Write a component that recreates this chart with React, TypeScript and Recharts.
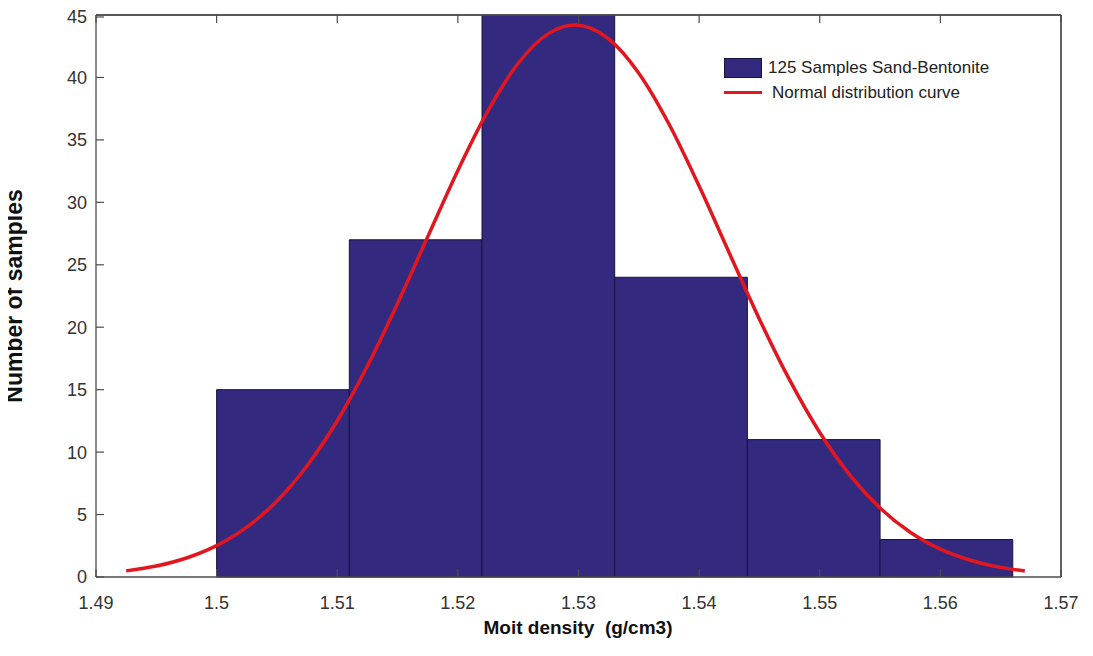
import React from "react";
import {
  ComposedChart,
  Line,
  XAxis,
  YAxis,
  ReferenceArea,
  ReferenceLine,
} from "recharts";

// histogram bins (g/cm3) and sample counts
const binStarts = [1.5, 1.511, 1.522, 1.533, 1.544, 1.555];
const binEnds = [1.511, 1.522, 1.533, 1.544, 1.555, 1.566];
const binCounts = [15, 27, 45, 24, 11, 3];

// fitted normal curve, scaled to counts
const curveX = [
  1.4925, 1.495, 1.4975, 1.5, 1.5025, 1.505, 1.5075, 1.51, 1.5125, 1.515,
  1.5175, 1.52, 1.5225, 1.525, 1.5275, 1.5297, 1.5325, 1.535, 1.5375, 1.54,
  1.5425, 1.545, 1.5475, 1.55, 1.5525, 1.555, 1.5575, 1.56, 1.5625, 1.565,
  1.567,
];
const curveY = [
  0.49, 0.88, 1.52, 2.51, 3.99, 6.08, 8.91, 12.51, 16.89, 21.9, 27.24, 32.55,
  37.34, 41.14, 43.51, 44.2, 43.09, 40.34, 36.27, 31.3, 25.94, 20.64, 15.78,
  11.57, 8.16, 5.52, 3.58, 2.23, 1.34, 0.77, 0.48,
];

const xTicks = [1.49, 1.5, 1.51, 1.52, 1.53, 1.54, 1.55, 1.56, 1.57];
const yTicks = [0, 5, 10, 15, 20, 25, 30, 35, 40, 45];

const barName = "125 Samples Sand-Bentonite";
const curveName = "Normal distribution curve";

const curveData = curveX.map((x, i) => ({ x, y: curveY[i] }));

const BAR_FILL = "#332A80";
const BAR_EDGE = "#16133a";
const CURVE = "#E2161E";
const AXIS = "#4d4d4d";
const FONT = "Arial, 'Liberation Sans', sans-serif";
const TICK_LEN = 8;
const X_GAP = 19;
const Y_GAP = 9;

// ticks point into the plot box, labels stay outside
const BottomTick = (props: any) => {
  const { x, y, payload } = props;
  const axisY = y - X_GAP;
  return (
    <g>
      <line x1={x} y1={axisY} x2={x} y2={axisY - TICK_LEN} stroke={AXIS} strokeWidth={1.2} />
      <text x={x} y={y} dy="0.71em" textAnchor="middle" fill="#333" fontSize={18} fontFamily={FONT}>
        {String(payload.value)}
      </text>
    </g>
  );
};

const LeftTick = (props: any) => {
  const { x, y, payload } = props;
  const axisX = x + Y_GAP;
  return (
    <g>
      <line x1={axisX} y1={y} x2={axisX + TICK_LEN} y2={y} stroke={AXIS} strokeWidth={1.2} />
      <text x={x} y={y} dy="0.355em" textAnchor="end" fill="#333" fontSize={18} fontFamily={FONT}>
        {String(payload.value)}
      </text>
    </g>
  );
};

const TopTick = (props: any) => {
  const { x, y } = props;
  return <line x1={x} y1={y} x2={x} y2={y + TICK_LEN} stroke={AXIS} strokeWidth={1.2} />;
};

const RightTick = (props: any) => {
  const { x, y } = props;
  return <line x1={x} y1={y} x2={x - TICK_LEN} y2={y} stroke={AXIS} strokeWidth={1.2} />;
};

export default function App() {
  return (
    <div style={{ position: "relative", width: 1085, height: 648 }}>
      <ComposedChart
        width={1085}
        height={648}
        data={curveData}
        margin={{ top: 6, right: 31, bottom: 49, left: 28 }}
      >
        <XAxis
          dataKey="x"
          type="number"
          domain={[1.49, 1.57]}
          ticks={xTicks}
          allowDataOverflow
          height={30}
          stroke={AXIS}
          strokeWidth={1.3}
          tickLine={false}
          tickSize={0}
          tickMargin={X_GAP}
          tick={<BottomTick />}
        />
        <XAxis
          xAxisId="top"
          dataKey="x"
          type="number"
          orientation="top"
          domain={[1.49, 1.57]}
          ticks={xTicks}
          allowDataOverflow
          height={1}
          stroke={AXIS}
          strokeWidth={1.3}
          tickLine={false}
          tickSize={0}
          tickMargin={0}
          tick={<TopTick />}
        />
        <YAxis
          type="number"
          domain={[0, 45]}
          ticks={yTicks}
          width={60}
          stroke={AXIS}
          strokeWidth={1.3}
          tickLine={false}
          tickSize={0}
          tickMargin={Y_GAP}
          tick={<LeftTick />}
        />
        <YAxis
          yAxisId="right"
          type="number"
          orientation="right"
          domain={[0, 45]}
          ticks={yTicks}
          width={1}
          stroke={AXIS}
          strokeWidth={1.3}
          tickLine={false}
          tickSize={0}
          tickMargin={0}
          tick={<RightTick />}
        />
        {binCounts.map((count, i) => (
          <ReferenceArea
            key={`bin-${i}`}
            x1={binStarts[i]}
            x2={binEnds[i]}
            y1={0}
            y2={count}
            fill={BAR_FILL}
            fillOpacity={1}
            stroke={BAR_EDGE}
            strokeOpacity={1}
            strokeWidth={1}
            ifOverflow="visible"
          />
        ))}
        {/* box outline on the top and right */}
        <ReferenceLine y={45} stroke={AXIS} strokeWidth={1.3} ifOverflow="visible" />
        <ReferenceLine x={1.57} stroke={AXIS} strokeWidth={1.3} ifOverflow="visible" />
        <Line
          dataKey="y"
          name={curveName}
          type="monotone"
          stroke={CURVE}
          strokeWidth={3.5}
          dot={false}
          activeDot={false}
          isAnimationActive={false}
        />
      </ComposedChart>

      {/* legend */}
      <div
        style={{
          position: "absolute",
          left: 716,
          top: 47,
          fontFamily: FONT,
          fontSize: 17,
          color: "#222",
          lineHeight: "25px",
        }}
      >
        <div style={{ display: "flex", alignItems: "center" }}>
          <span
            style={{
              display: "inline-block",
              width: 36,
              height: 18,
              background: BAR_FILL,
              border: `1px solid ${BAR_EDGE}`,
              marginRight: 6,
            }}
          />
          {barName}
        </div>
        <div style={{ display: "flex", alignItems: "center" }}>
          <span
            style={{
              display: "inline-block",
              width: 38,
              height: 3,
              background: CURVE,
              marginRight: 10,
            }}
          />
          {curveName}
        </div>
      </div>

      {/* axis titles */}
      <div
        style={{
          position: "absolute",
          left: 6,
          top: 288,
          transform: "translate(-50%, -50%) rotate(-90deg)",
          whiteSpace: "nowrap",
          fontFamily: FONT,
          fontWeight: "bold",
          fontSize: 23,
          color: "#111",
        }}
      >
        Number of samples
      </div>
      <div
        style={{
          position: "absolute",
          left: 570,
          top: 620,
          transform: "translate(-50%, -50%)",
          whiteSpace: "pre",
          fontFamily: FONT,
          fontWeight: "bold",
          fontSize: 19,
          color: "#111",
        }}
      >
        {"Moit density  (g/cm3)"}
      </div>
    </div>
  );
}
